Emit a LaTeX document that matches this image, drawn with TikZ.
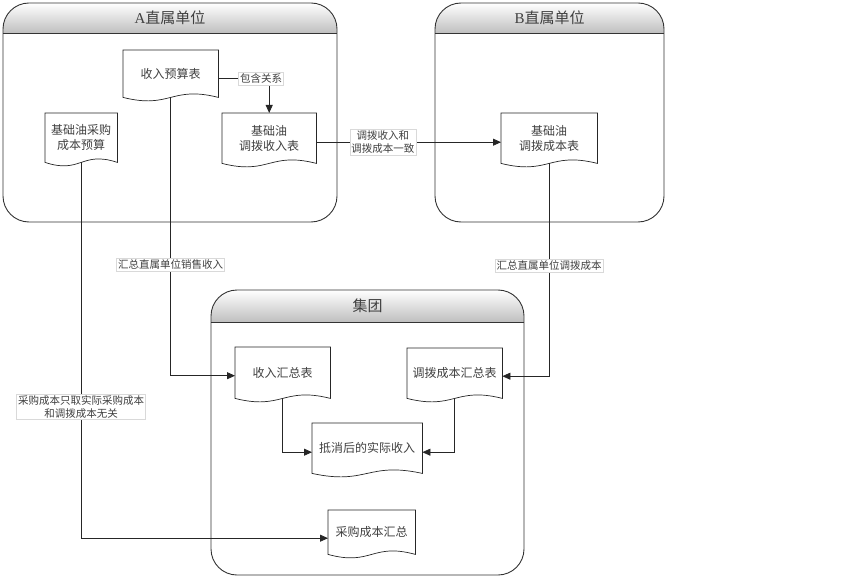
\documentclass[tikz,border=0pt]{standalone}
\usepackage{fontspec}
\setmainfont{Noto Sans CJK SC}
\newfontfamily\latf{Liberation Serif}
\usetikzlibrary{arrows.meta,calc}
\tikzset{
  lanel/.style={draw=black!80, line width=0.9pt},
  lanetitle/.style={font=\fontsize{15}{17}\selectfont, text=black!75, inner sep=0pt},
  docbox/.style={draw=none, inner sep=0pt, anchor=north west, align=center,
                 font=\fontsize{12}{15}\selectfont, text=black!75},
  docline/.style={draw=black!85, line width=0.7pt},
  conn/.style={draw=black!85, line width=0.8pt},
  arr/.style={conn, -{Triangle[length=8pt,width=7pt]}},
  lbl/.style={fill=white, draw=black!15, line width=0.5pt, inner sep=1.5pt, align=center,
              font=\fontsize{10.5}{13}\selectfont, text=black!75}
}
\newcommand\mydocshape[1]{%
  \draw[docline] (#1.south west) -- (#1.north west) -- (#1.north east) -- (#1.south east)
    .. controls ($(#1.south)+(0,12pt)$) and ($(#1.south)+(0,-12pt)$) .. (#1.south west) -- cycle;}
\newcommand\mylane[7]{%
  \begin{scope}
    \clip[rounded corners=26pt] (#1,#2) rectangle (#3,#4);
    \shade[top color=white, bottom color=black!25] (#1,#2) rectangle (#3,#5);
  \end{scope}
  \draw[lanel] (#1,#5) -- (#3,#5);
  \draw[lanel, rounded corners=26pt] (#1,#2) rectangle (#3,#4);
  \node[lanetitle] (#6) at ({(#1+#3)/2},{(#2+#5)/2}) {#7};}
\begin{document}
\begin{tikzpicture}[x=1pt, y=-1pt]
\useasboundingbox (0,0) rectangle (856,588);
% containers
\mylane{3}{3}{337}{222}{33}{laneA}{{\latf A}直属单位}
\mylane{435}{3}{664}{222}{33}{laneB}{{\latf B}直属单位}
\mylane{211}{290}{524}{575}{322}{laneG}{集团}
% documents
\node[docbox, minimum width=95pt, minimum height=47pt] (ysb) at (123,50) {收入预算表};
\node[docbox, minimum width=72pt, minimum height=49pt] (cgys) at (45,113) {基础油采购\\成本预算};
\node[docbox, minimum width=94pt, minimum height=50pt] (dbsr) at (222,113) {基础油\\调拨收入表};
\node[docbox, minimum width=96pt, minimum height=50pt] (dbcb) at (501,113) {基础油\\调拨成本表};
\node[docbox, minimum width=95pt, minimum height=51pt] (srhz) at (235,347) {收入汇总表};
\node[docbox, minimum width=95pt, minimum height=50pt] (dbhz) at (407,348) {调拨成本汇总表};
\node[docbox, minimum width=110pt, minimum height=50pt] (dxsr) at (312,423) {抵消后的实际收入};
\node[docbox, minimum width=87pt, minimum height=44pt] (cghz) at (328,510) {采购成本汇总};
\foreach \n in {ysb,cgys,dbsr,dbcb,srhz,dbhz,dxsr,cghz} {\mydocshape{\n}}
% connectors
\draw[arr] ([yshift=-5pt]ysb.east) -| node[lbl, pos=0.42] {包含关系} (dbsr.north);
\draw[arr] ([yshift=-4pt]dbsr.east) -- node[lbl, pos=0.36] {调拨收入和\\调拨成本一致} ([yshift=-4pt]dbcb.west);
\draw[arr] (ysb.south) |- node[lbl, pos=0.3] {汇总直属单位销售收入} ([yshift=-3pt]srhz.west);
\draw[arr] (cgys.south) |- node[lbl, pos=0.325] {采购成本只取实际采购成本\\和调拨成本无关} ([yshift=-6pt]cghz.west);
\draw[arr] (dbcb.south) |- node[lbl, pos=0.24] {汇总直属单位调拨成本} ([yshift=-3pt]dbhz.east);
\draw[arr] (srhz.south) |- ([yshift=-4pt]dxsr.west);
\draw[arr] (dbhz.south) |- ([yshift=-4pt]dxsr.east);
\end{tikzpicture}
\end{document}
